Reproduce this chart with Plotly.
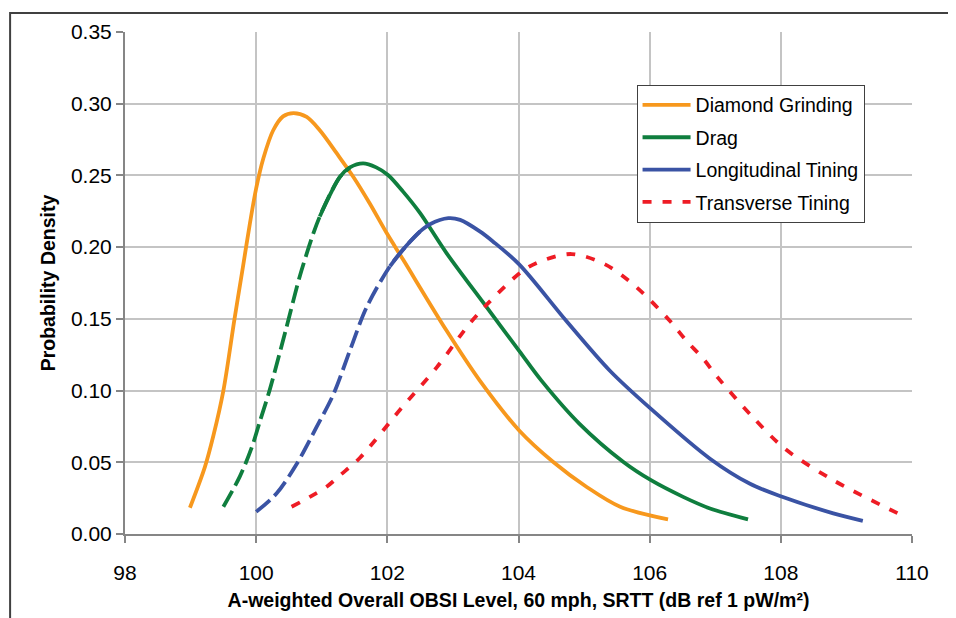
import plotly.graph_objects as go

# ---- data ----
dg_x = [98.99, 99.22, 99.35, 99.50, 99.67, 99.80, 99.905, 100.0, 100.11, 100.26, 100.41,
        100.57, 100.77, 100.97, 101.23, 101.48, 101.73, 101.99, 102.24, 102.9, 103.41, 104.01,
        104.53, 105.04, 105.55, 106.28]
dg_y = [0.0183, 0.047, 0.069, 0.100, 0.150, 0.1867, 0.2167, 0.2410, 0.2620, 0.2815,
        0.2912, 0.2935, 0.2908, 0.2815, 0.2653, 0.2491, 0.2306, 0.2098, 0.1913, 0.142, 0.1069,
        0.0722, 0.0502, 0.0328, 0.019, 0.0102]

drag_x = [99.50, 99.75, 99.93, 100.06, 100.21, 100.45, 100.69, 100.97, 101.28, 101.43, 101.63,
          101.83, 102.01, 102.24, 102.50, 102.9, 103.5, 104.01, 104.35, 104.93, 105.60, 106.02,
          106.51, 106.92, 107.5]
drag_y = [0.019, 0.040, 0.060, 0.079, 0.101, 0.142, 0.1835, 0.2214, 0.2491, 0.2556, 0.2584,
          0.2556, 0.2503, 0.2387, 0.2237, 0.196, 0.159, 0.1277, 0.1069, 0.0768, 0.0502, 0.0375,
          0.0259, 0.0178, 0.0102]

lt_x = [100.0, 100.31, 100.62, 100.92, 101.18, 101.43, 101.68, 102.04, 102.29, 102.50, 102.65,
        102.93, 103.11, 103.41, 103.61, 104.01, 104.73, 105.39, 106.02, 106.92, 107.53, 108.02,
        108.8, 109.25]
lt_y = [0.0155, 0.0282, 0.049, 0.0745, 0.0976, 0.128, 0.1577, 0.1867, 0.2010, 0.2110, 0.2160,
        0.2202, 0.219, 0.211, 0.204, 0.188, 0.1485, 0.114, 0.0872, 0.0525, 0.035, 0.026,
        0.0144, 0.0092]

tt_x = [100.54, 100.82, 101.07, 101.28, 101.58, 102.2, 102.75, 103.26, 103.56, 104.05, 104.33,
        104.81, 105.32, 105.8, 106.31, 106.54, 106.82, 107.04, 107.55, 108.06, 108.8, 109.87]
tt_y = [0.019, 0.0259, 0.0328, 0.041, 0.053, 0.087, 0.116, 0.147, 0.162, 0.183, 0.190,
        0.1952, 0.188, 0.172, 0.1485, 0.1358, 0.122, 0.109, 0.0826, 0.0595, 0.0375, 0.0125]

names = ["Diamond Grinding", "Drag", "Longitudinal Tining", "Transverse Tining"]
x_ticks = [98, 100, 102, 104, 106, 108, 110]
y_ticks = [0.00, 0.05, 0.10, 0.15, 0.20, 0.25, 0.30, 0.35]

# ---- styling ----
FONT = "Liberation Sans, Arial, sans-serif"
C_ORANGE = "#F7981D"
C_GREEN = "#0F7E3E"
C_BLUE = "#3A53A4"
C_RED = "#EE1C25"
LW = 3.8
SMOOTH = 0.9

fig = go.Figure()

def split_at(xs, ys, xsplit):
    """dashed part runs one point past the split, solid part starts one point before,
    so both splines overlap and the join stays smooth."""
    i = max(k for k, v in enumerate(xs) if v <= xsplit)
    return (xs[:i + 2], ys[:i + 2]), (xs[i - 1:], ys[i - 1:])

# Diamond Grinding - solid
fig.add_trace(go.Scatter(x=dg_x, y=dg_y, mode="lines", name=names[0], legendgroup="g0",
                         line=dict(color=C_ORANGE, width=LW, shape="spline", smoothing=SMOOTH)))

# Drag - dashed on the rising flank, solid afterwards
(dx1, dy1), (dx2, dy2) = split_at(drag_x, drag_y, 101.28)
fig.add_trace(go.Scatter(x=dx1, y=dy1, mode="lines", name=names[1], legendgroup="g1",
                         showlegend=False,
                         line=dict(color=C_GREEN, width=LW, shape="spline", smoothing=SMOOTH,
                                   dash="18px,6px")))
fig.add_trace(go.Scatter(x=dx2, y=dy2, mode="lines", name=names[1], legendgroup="g1",
                         line=dict(color=C_GREEN, width=LW, shape="spline", smoothing=SMOOTH)))

# Longitudinal Tining
(lx1, ly1), (lx2, ly2) = split_at(lt_x, lt_y, 102.29)
fig.add_trace(go.Scatter(x=lx1, y=ly1, mode="lines", name=names[2], legendgroup="g2",
                         showlegend=False,
                         line=dict(color=C_BLUE, width=LW, shape="spline", smoothing=SMOOTH,
                                   dash="18px,6px")))
fig.add_trace(go.Scatter(x=lx2, y=ly2, mode="lines", name=names[2], legendgroup="g2",
                         line=dict(color=C_BLUE, width=LW, shape="spline", smoothing=SMOOTH)))

# Transverse Tining - short dashes
fig.add_trace(go.Scatter(x=tt_x, y=tt_y, mode="lines", name=names[3], legendgroup="g3",
                         line=dict(color=C_RED, width=LW, shape="spline", smoothing=SMOOTH,
                                   dash="9px,11px")))

AX_COLOR = "#868686"
GRID = "#C4C4C4"

fig.update_layout(
    width=956, height=618,
    margin=dict(l=117, r=52, t=21, b=92),
    paper_bgcolor="white", plot_bgcolor="white",
    font=dict(family=FONT, size=19, color="#000000"),
    showlegend=True,
    legend=dict(x=0.650, y=0.895, xanchor="left", yanchor="top",
                bgcolor="white", bordercolor="#404040", borderwidth=1,
                font=dict(family=FONT, size=19.5), tracegroupgap=4,
                itemwidth=48, traceorder="grouped"),
    xaxis=dict(range=[98, 110], tickvals=x_ticks, ticktext=[str(v) for v in x_ticks],
               showgrid=True, gridcolor=GRID, gridwidth=1.5,
               showline=True, linecolor=AX_COLOR, linewidth=2,
               ticks="outside", ticklen=7, tickcolor=AX_COLOR, tickwidth=1.5,
               ticklabelstandoff=12,
               zeroline=False, tickfont=dict(size=21),
               title=dict(text="<b>A-weighted Overall OBSI Level, 60 mph, SRTT (dB ref 1 pW/m²)</b>",
                          font=dict(size=19.5), standoff=10)),
    yaxis=dict(range=[0, 0.35], tickvals=y_ticks, ticktext=[f"{v:.2f}" for v in y_ticks],
               showgrid=True, gridcolor=GRID, gridwidth=1.5,
               showline=True, linecolor=AX_COLOR, linewidth=2,
               ticks="outside", ticklen=7, tickcolor=AX_COLOR, tickwidth=1.5,
               zeroline=False, tickfont=dict(size=21),
               title=dict(text="<b>Probability Density</b>", font=dict(size=19.5), standoff=10)),
    shapes=[dict(type="rect", xref="paper", yref="paper",
                 x0=-0.146, x1=1.052, y0=-0.25, y1=1.038,
                 line=dict(color="#404040", width=2), fillcolor="rgba(0,0,0,0)", layer="above")],
)

fig.write_html("out.html")
